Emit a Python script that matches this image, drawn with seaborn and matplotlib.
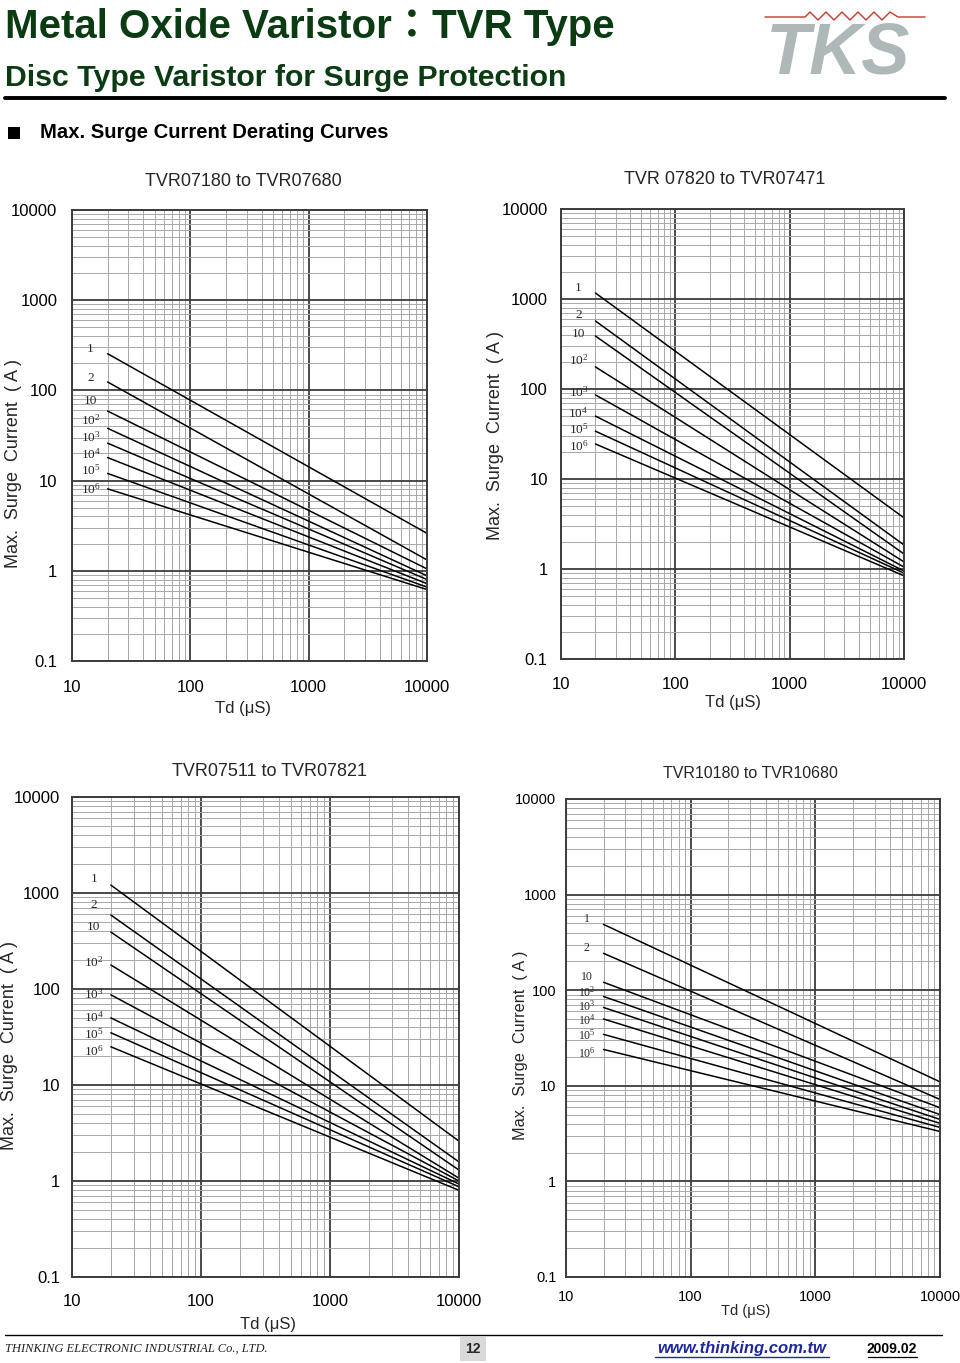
import matplotlib
matplotlib.use('Agg')
import numpy as np
import pandas as pd
import matplotlib.pyplot as plt
import seaborn as sns
from matplotlib import font_manager
from matplotlib.lines import Line2D
from matplotlib.patches import Rectangle
from matplotlib.ticker import LogLocator, NullFormatter

W, H = 960, 1363

# pulse count labels (one derating curve each)
pulse_labels = ['1', '2', '10', r'$\mathregular{10^{2}}$', r'$\mathregular{10^{3}}$',
                r'$\mathregular{10^{4}}$', r'$\mathregular{10^{5}}$', r'$\mathregular{10^{6}}$']
td_points = [20, 10000]

# max surge current (A) at Td = 20 us and Td = 10000 us
tvr07180_start = [255, 124, 59, 38, 26, 18, 12, 8.1]
tvr07180_end = [2.6, 1.32, 1.05, 0.88, 0.8, 0.72, 0.66, 0.62]
tvr07820_start = [1166, 570, 388, 176, 86, 50, 34, 24.5]
tvr07820_end = [3.7, 1.85, 1.47, 1.2, 1.05, 0.95, 0.9, 0.84]
tvr07511_start = [1210, 590, 392, 178, 87, 50, 35, 25]
tvr07511_end = [2.6, 1.58, 1.3, 1.07, 1.0, 0.93, 0.87, 0.8]
tvr10180_start = [488, 243, 121, 86, 66, 50, 34.5, 24]
tvr10180_end = [11, 7.2, 5.9, 5.0, 4.45, 4.05, 3.67, 3.33]

x_ticks = [10, 100, 1000, 10000]
x_tick_labels = ['10', '100', '1000', '10000']
y_ticks = [0.1, 1, 10, 100, 1000, 10000]
y_tick_labels = ['0.1', '1', '10', '100', '1000', '10000']

titles = ['TVR07180 to TVR07680', 'TVR 07820 to TVR07471',
          'TVR07511 to TVR07821', 'TVR10180 to TVR10680']
series = [(tvr07180_start, tvr07180_end), (tvr07820_start, tvr07820_end),
          (tvr07511_start, tvr07511_end), (tvr10180_start, tvr10180_end)]

# layout in page pixels: box (l, t, r, b), title pos, xlabel pos, ylabel pos, font sizes,
# tick pads, and how far (px) each curve label sits above its curve start
layout = [
    dict(box=(72, 210, 427, 661), title=(243, 181), xlab=(243, 709), ylab=(14, 463),
         fs=12, yl=13, cfs=9.5, ypad=10.5, xpad=13.5, nudge=[5, 4, 10, 8, 6, 3, 3, 0]),
    dict(box=(561, 209, 904, 659), title=(725, 179), xlab=(733, 703), ylab=(495, 435),
         fs=12, yl=13, cfs=9.5, ypad=9.5, xpad=13, nudge=[5, 6, 2, 7, 3, 3, 2, -2]),
    dict(box=(72, 797, 459, 1277), title=(270, 772), xlab=(268, 1325), ylab=(10, 1045),
         fs=12, yl=13, cfs=9.5, ypad=8.5, xpad=12, nudge=[6, 10, 5, 3, 1, 1, -2, -5]),
    dict(box=(566, 799, 940, 1277), title=(750, 774), xlab=(746, 1311), ylab=(521, 1045),
         fs=10.5, yl=11.7, cfs=8.5, ypad=7, xpad=9.5, nudge=[5, 5, 5, 4, 1, -1, -1, -4]),
]

sns.set_theme(style='white')
names = {f.name for f in font_manager.fontManager.ttflist}
has_narrow = 'Liberation Sans Narrow' in names
head_font = 'Liberation Sans Narrow' if has_narrow else 'Liberation Sans'
plt.rcParams['font.family'] = ['Liberation Sans', 'DejaVu Sans']
plt.rcParams['mathtext.fontset'] = 'custom'
plt.rcParams['mathtext.rm'] = 'Liberation Serif'


def fx(px):
    return px / W


def fy(py):
    return 1 - py / H


fig = plt.figure(figsize=(W / 100, H / 100), dpi=100)
fig.patch.set_facecolor('white')

for i, (title, (start, end), lay) in enumerate(zip(titles, series, layout)):
    l, t, r, b = lay['box']
    ax = fig.add_axes([fx(l), fy(b), (r - l) / W, (b - t) / H])

    rows = []
    for lbl, s, e in zip(pulse_labels, start, end):
        rows.append({'td': td_points[0], 'current': s, 'pulses': lbl})
        rows.append({'td': td_points[1], 'current': e, 'pulses': lbl})
    df = pd.DataFrame(rows)

    sns.lineplot(data=df, x='td', y='current', units='pulses', estimator=None,
                 color='black', linewidth=1.1, ax=ax)
    ax.set_xscale('log')
    ax.set_yscale('log')
    ax.set_xlim(10, 10000)
    ax.set_ylim(0.1, 10000)

    ax.xaxis.set_minor_locator(LogLocator(base=10, subs=range(2, 10)))
    ax.yaxis.set_minor_locator(LogLocator(base=10, subs=range(2, 10)))
    ax.xaxis.set_minor_formatter(NullFormatter())
    ax.yaxis.set_minor_formatter(NullFormatter())
    ax.set_xticks(x_ticks, x_tick_labels)
    ax.set_yticks(y_ticks, y_tick_labels)
    ax.tick_params(which='both', length=0)
    ax.tick_params(axis='y', pad=lay['ypad'], labelsize=lay['fs'], colors='black')
    ax.tick_params(axis='x', pad=lay['xpad'], labelsize=lay['fs'], colors='black')

    ax.grid(True, which='major', color='#3c3c3c', linewidth=1.3)
    ax.grid(True, which='minor', color='#a8a8a8', linewidth=0.7)
    ax.set_axisbelow(True)
    for sp in ax.spines.values():
        sp.set_color('#3c3c3c')
        sp.set_linewidth(1.4)
    ax.set_xlabel('')
    ax.set_ylabel('')

    for lbl, s, dy in zip(pulse_labels, start, lay['nudge']):
        ax.annotate(lbl, xy=(td_points[0], s), xytext=(-17, dy), textcoords='offset pixels',
                    ha='center', va='center', fontsize=lay['cfs'], family='Liberation Serif')

    fig.text(fx(lay['title'][0]), fy(lay['title'][1]), title, ha='center', va='center',
             fontsize=lay['fs'] + 1)
    fig.text(fx(lay['xlab'][0]), fy(lay['xlab'][1]), 'Td (μS)', ha='center', va='center',
             fontsize=lay['fs'])
    fig.text(fx(lay['ylab'][0]), fy(lay['ylab'][1]), 'Max.  Surge  Current  ( A )',
             ha='center', va='center', rotation=90, fontsize=lay['yl'])

# page header
green = '#0b3b12'
fig.text(fx(5), fy(27), 'Metal Oxide Varistor：TVR Type', ha='left', va='center',
         fontsize=33 if has_narrow else 29, weight='bold', color=green,
         family=[head_font, 'Noto Sans CJK JP'])
fig.text(fx(5), fy(78), 'Disc Type Varistor for Surge Protection', ha='left', va='center',
         fontsize=22 if has_narrow else 21.8, weight='bold', color=green, family=head_font)
fig.add_artist(Line2D([fx(5), fx(945)], [fy(98), fy(98)], color='black', linewidth=2.8))

# TKS logo
zig_x = [765, 805, 810, 818, 826, 834, 842, 850, 858, 866, 874, 882, 890, 898, 925]
zig_y = [17, 17, 12, 20, 12, 20, 12, 20, 12, 20, 12, 20, 12, 17, 17]
fig.add_artist(Line2D([fx(v) for v in zig_x], [fy(v) for v in zig_y],
                      color='#c0392b', linewidth=1.0))
fig.text(fx(838), fy(55), 'TKS', ha='center', va='center', fontsize=52, weight='bold',
         style='italic', color='#aeb8b8', family='Liberation Sans')

fig.add_artist(Rectangle((fx(8), fy(139)), 12 / W, 12 / H, transform=fig.transFigure,
                         facecolor='black', edgecolor='none'))
fig.text(fx(40), fy(133), 'Max. Surge Current Derating Curves', ha='left', va='center',
         fontsize=14 if has_narrow else 14.6, weight='bold', color='black', family=head_font)

# footer
fig.add_artist(Line2D([fx(5), fx(942)], [fy(1335), fy(1335)], color='black', linewidth=1.0))
fig.text(fx(5), fy(1349), 'THINKING ELECTRONIC INDUSTRIAL Co., LTD.', ha='left', va='center',
         fontsize=9, style='italic', family='Liberation Serif', color='#222222')
fig.text(fx(473), fy(1349), '12', ha='center', va='center', fontsize=10, weight='bold',
         family=head_font,
         bbox=dict(boxstyle='square,pad=0.35', facecolor='#d9d9d9', edgecolor='none'))
fig.text(fx(742), fy(1349), 'www.thinking.com.tw', ha='center', va='center', fontsize=12,
         weight='bold', style='italic', color='#1f2a9a', family='Liberation Sans')
fig.add_artist(Line2D([fx(655), fx(829)], [fy(1357), fy(1357)], color='#1f2a9a', linewidth=1.0))
fig.text(fx(892), fy(1349), '2009.02', ha='center', va='center', fontsize=10, weight='bold',
         color='black', family=head_font)
fig.add_artist(Line2D([fx(868), fx(917)], [fy(1357), fy(1357)], color='black', linewidth=0.9))

fig.savefig('out.png', dpi=100, facecolor='white')
